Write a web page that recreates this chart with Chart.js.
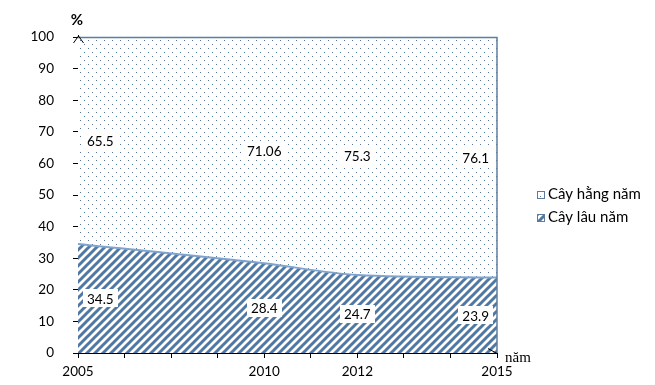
<!DOCTYPE html>
<html>
<head>
<meta charset="utf-8">
<script src="https://cdn.jsdelivr.net/npm/chart.js@4/dist/chart.umd.min.js"></script>
<style>
  html,body{margin:0;padding:0;background:#fff;}
  #wrap{width:655px;height:385px;position:relative;}
</style>
</head>
<body>
<div id="wrap"><canvas id="c" width="655" height="385"></canvas></div>
<script>
// ---- data ----
const categories = ['2005', '', '', '', '2010', '', '2012', '', '', '2015'];
const cayLauNam   = [34.5, null, null, null, 28.4, null, 24.7, null, null, 23.9];
const cayHangNam  = [65.5, null, null, null, 71.06, null, 75.3, null, null, 76.1];
const seriesNames = ['Cây lâu năm', 'Cây hằng năm'];
const yTicks = [0, 10, 20, 30, 40, 50, 60, 70, 80, 90, 100];
const yUnit = '%';
const xUnit = 'năm';

const FONT = 'Lato, "Open Sans", sans-serif';

function makeDots() {
  const c = document.createElement('canvas'); c.width = 8; c.height = 8;
  const g = c.getContext('2d');
  g.fillStyle = '#ffffff'; g.fillRect(0, 0, 8, 8);
  g.fillStyle = '#56769a';
  g.fillRect(0, 0, 1, 1); g.fillRect(4, 4, 1, 1);
  return g.createPattern(c, 'repeat');
}
function makeHatch() {
  const c = document.createElement('canvas'); c.width = 8; c.height = 8;
  const g = c.getContext('2d');
  g.fillStyle = '#ffffff'; g.fillRect(0, 0, 8, 8);
  g.strokeStyle = '#4f78a2'; g.lineWidth = 3; g.lineCap = 'square';
  [[0, 8, 8, 0], [-4, 4, 4, -4], [4, 12, 12, 4]].forEach(([a, b, c2, d]) => {
    g.beginPath(); g.moveTo(a, b); g.lineTo(c2, d); g.stroke();
  });
  return g.createPattern(c, 'repeat');
}
const dotPat = makeDots();
const hatchPat = makeHatch();

const decor = {
  id: 'decor',
  afterDatasetsDraw(chart) {
    const ctx = chart.ctx;
    const a = chart.chartArea;
    const ys = chart.scales.y, xs = chart.scales.x;
    ctx.save();
    // area outline top & right
    ctx.strokeStyle = '#5d7d9e'; ctx.lineWidth = 1.5;
    ctx.beginPath();
    ctx.moveTo(a.left, a.top + 0.5); ctx.lineTo(a.right, a.top + 0.5); ctx.lineTo(a.right, a.bottom);
    ctx.stroke();
    // data labels
    ctx.font = '13.5px ' + FONT;
    ctx.textAlign = 'center'; ctx.textBaseline = 'middle';
    const sets = chart.data.datasets;
    sets.forEach((ds, di) => {
      ds.data.forEach((v, i) => {
        if (v === null) return;
        let base = 0;
        for (let k = 0; k < di; k++) base += sets[k].data[i];
        const y = ys.getPixelForValue(base + v / 2);
        const txt = String(v);
        const w = ctx.measureText(txt).width + 8;
        let x = xs.getPixelForValue(i);
        x = Math.max(a.left + 5 + w / 2, Math.min(a.right - 4 - w / 2, x));
        ctx.fillStyle = '#ffffff';
        ctx.fillRect(Math.round(x - w / 2), Math.round(y - 9), Math.round(w), 18);
        ctx.fillStyle = '#000000';
        ctx.fillText(txt, x, y + 1);
      });
    });
    ctx.restore();
  },
  afterDraw(chart) {
    const ctx = chart.ctx;
    const a = chart.chartArea;
    ctx.save();
    ctx.strokeStyle = '#000'; ctx.lineWidth = 1;
    // y axis arrow
    const x0 = Math.round(a.left) + 0.5;
    ctx.beginPath();
    ctx.moveTo(x0, a.top); ctx.lineTo(x0, a.top - 2);
    ctx.moveTo(x0 - 5, a.top + 6); ctx.lineTo(x0, a.top - 1); ctx.lineTo(x0 + 5, a.top + 6);
    ctx.stroke();
    // x axis arrow
    const yb = Math.round(a.bottom) + 0.5;
    ctx.beginPath();
    ctx.moveTo(a.right - 9, yb - 5); ctx.lineTo(a.right, yb);
    ctx.stroke();
    // unit labels
    ctx.fillStyle = '#000';
    ctx.font = 'bold 15px ' + FONT;
    ctx.textAlign = 'center'; ctx.textBaseline = 'middle';
    ctx.fillText(yUnit, a.left - 1, 20);
    ctx.font = '15px "Liberation Serif", "DejaVu Serif", serif';
    ctx.textAlign = 'left';
    ctx.fillText(xUnit, a.right + 8, a.bottom + 5);
    // legend (top series first)
    const sets = chart.data.datasets;
    const order = [1, 0];
    ctx.font = '15px ' + FONT;
    ctx.textBaseline = 'middle';
    order.forEach((di, r) => {
      const cy = 194 + r * 23;
      const bx = 537, by = cy - 3;
      ctx.fillStyle = sets[di].backgroundColor;
      ctx.fillRect(bx, by, 7, 7);
      ctx.strokeStyle = '#5d7d9e'; ctx.lineWidth = 1;
      ctx.strokeRect(bx + 0.5, by + 0.5, 7, 7);
      ctx.fillStyle = '#000';
      ctx.fillText(sets[di].label, 548, cy);
    });
    ctx.restore();
  }
};

new Chart(document.getElementById('c'), {
  type: 'line',
  data: {
    labels: categories,
    datasets: [
      {
        label: seriesNames[0],
        data: cayLauNam,
        backgroundColor: hatchPat,
        borderColor: '#7fa3cc',
        borderWidth: 2,
        fill: 'origin',
        pointRadius: 0,
        spanGaps: true,
        cubicInterpolationMode: 'monotone'
      },
      {
        label: seriesNames[1],
        data: cayHangNam,
        backgroundColor: dotPat,
        borderColor: 'rgba(0,0,0,0)',
        borderWidth: 0,
        fill: '-1',
        pointRadius: 0,
        spanGaps: true,
        tension: 0
      }
    ]
  },
  options: {
    responsive: false,
    animation: false,
    events: [],
    layout: { padding: { left: 0, top: 37, right: 158, bottom: 0 } },
    plugins: { legend: { display: false }, tooltip: { enabled: false } },
    scales: {
      x: {
        type: 'category',
        offset: false,
        grid: { display: true, drawOnChartArea: false, tickLength: 5, color: '#000', tickColor: '#000' },
        border: { display: true, color: '#000', width: 1 },
        ticks: { autoSkip: false, maxRotation: 0, color: '#000', font: { family: FONT, size: 13.5 }, padding: 6 },
        afterFit(s) { s.height = 32; }
      },
      y: {
        stacked: true,
        min: 0, max: 100,
        afterBuildTicks(s) { s.ticks = yTicks.map(v => ({ value: v })); },
        grid: { display: true, drawOnChartArea: false, tickLength: 5, color: '#000', tickColor: '#000' },
        border: { display: true, color: '#000', width: 1 },
        ticks: { color: '#000', font: { family: FONT, size: 13.5 }, padding: 19 },
        afterFit(s) { s.width = 78; }
      }
    }
  },
  plugins: [decor]
});
</script>
</body>
</html>
